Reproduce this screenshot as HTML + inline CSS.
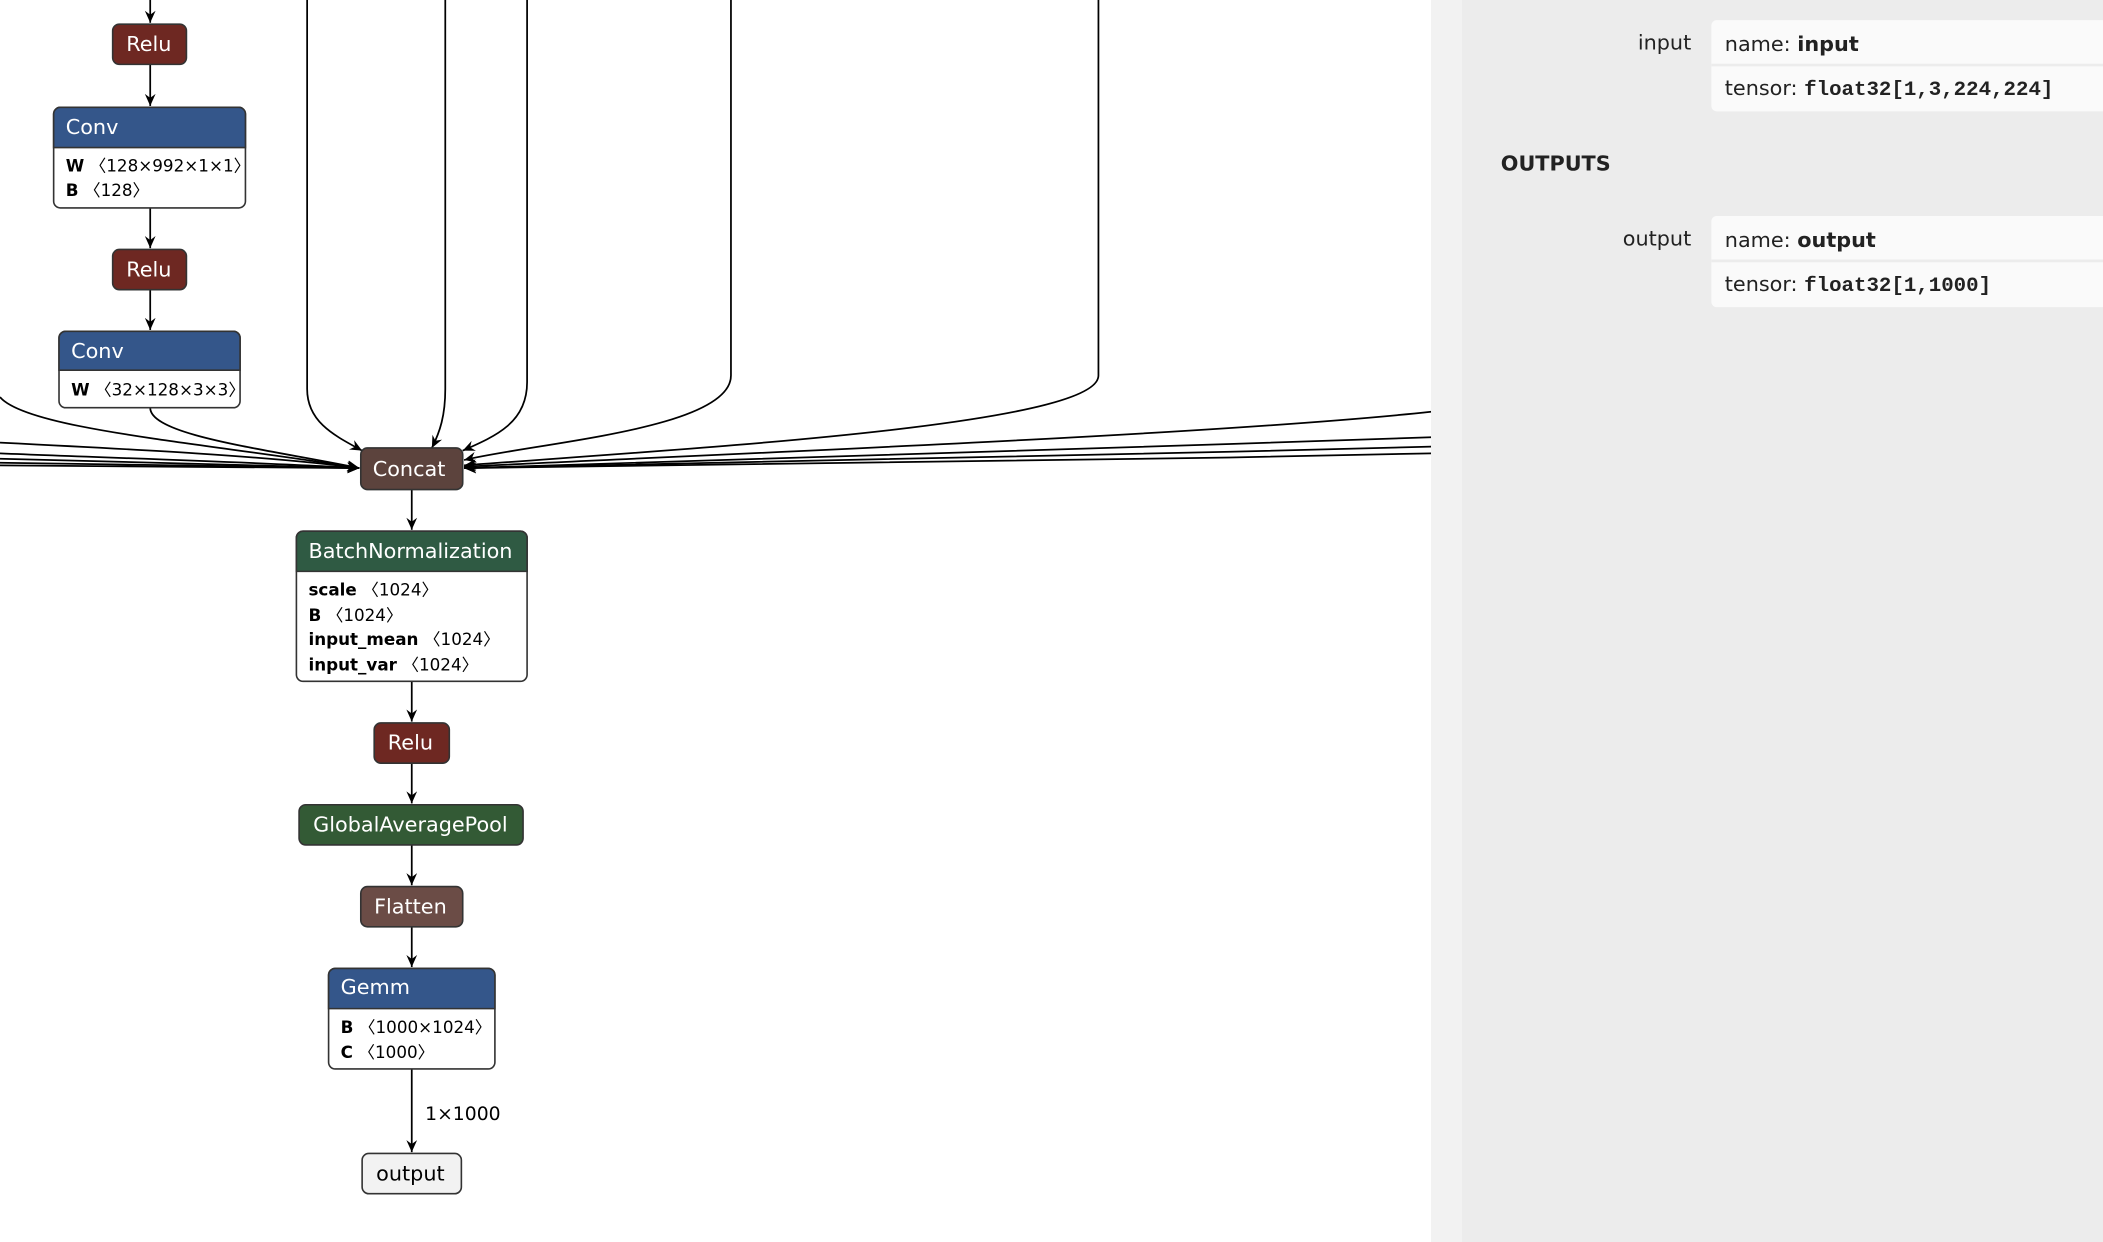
<!DOCTYPE html>
<html><head><meta charset="utf-8">
<style>
html,body{margin:0;padding:0;background:#fff;width:2103px;height:1242px;overflow:hidden}
svg{display:block}
text{font-family:"DejaVu Sans","Liberation Sans",sans-serif}
.nt{fill:#fff;font-size:15.5px}
.at{fill:#000;font-size:12.5px}
.ab{font-weight:bold}
.sb{font-size:15.5px;fill:#222}
.mono{font-family:"Liberation Mono","DejaVu Sans Mono",monospace;font-weight:bold;font-size:15.5px}
</style></head><body>
<svg width="2103" height="1242" viewBox="0 0 1568 926" preserveAspectRatio="none" xmlns="http://www.w3.org/2000/svg">
<defs>
<marker id="a" markerWidth="10" markerHeight="10" refX="9" refY="5" orient="auto" markerUnits="userSpaceOnUse">
<path d="M0,1 L9,5 L0,9 L3,5 Z" fill="#000"/></marker>
</defs>
<g fill="none" stroke="#000" stroke-width="1.3">
<!-- left chain -->
<line x1="112" y1="0" x2="112" y2="17" marker-end="url(#a)"/>
<line x1="112" y1="48" x2="112" y2="79" marker-end="url(#a)"/>
<line x1="112" y1="155" x2="112" y2="185" marker-end="url(#a)"/>
<line x1="112" y1="216" x2="112" y2="246" marker-end="url(#a)"/>
<!-- into concat from left -->
<path d="M112,304 C112,325 200,335 268,349" marker-end="url(#a)"/>
<path d="M0,296 C20,320 150,330 268,349" marker-end="url(#a)"/>
<path d="M0,330 C100,335 200,340 268,349" marker-end="url(#a)"/>
<path d="M0,338 C100,342 200,345 268,349" marker-end="url(#a)"/>
<path d="M0,342 C100,345 200,347 268,349" marker-end="url(#a)"/>
<path d="M0,345 C100,347 200,348 268,349" marker-end="url(#a)"/>
<path d="M0,347 L268,349" marker-end="url(#a)"/>
<!-- verticals -->
<path d="M229,0 L229,290 C229,315 250,325 270,336" marker-end="url(#a)"/>
<path d="M332,0 L332,290 C332,310 328,322 322,334" marker-end="url(#a)"/>
<path d="M393,0 L393,285 C393,315 370,325 345,336" marker-end="url(#a)"/>
<path d="M545,0 L545,280 C545,320 400,330 346,343" marker-end="url(#a)"/>
<path d="M819,0 L819,280 C819,318 500,335 346,347" marker-end="url(#a)"/>
<!-- right side -->
<path d="M1067,307 C900,325 500,340 346,348" marker-end="url(#a)"/>
<path d="M1067,326 C800,335 500,345 346,349" marker-end="url(#a)"/>
<path d="M1067,333 C800,340 500,347 346,349" marker-end="url(#a)"/>
<path d="M1067,338 C800,344 500,348 346,349" marker-end="url(#a)"/>
<!-- bottom chain -->
<line x1="307" y1="365" x2="307" y2="395" marker-end="url(#a)"/>
<line x1="307" y1="508" x2="307" y2="538" marker-end="url(#a)"/>
<line x1="307" y1="569" x2="307" y2="599" marker-end="url(#a)"/>
<line x1="307" y1="630" x2="307" y2="660" marker-end="url(#a)"/>
<line x1="307" y1="691" x2="307" y2="721" marker-end="url(#a)"/>
<line x1="307" y1="797" x2="307" y2="859" marker-end="url(#a)"/>
</g>
<text x="317" y="835" style="font-size:14px" fill="#000">1×1000</text>

<!-- nodes -->
<g stroke="#333" stroke-width="1.2">
<rect x="84" y="18" width="55" height="30" rx="5" fill="#6e2822"/>
<rect x="40" y="80" width="143" height="75" rx="5" fill="#fff"/>
<path d="M40,110 V85 a5,5 0 0 1 5,-5 H178 a5,5 0 0 1 5,5 V110 Z" fill="#34568a"/>
<rect x="84" y="186" width="55" height="30" rx="5" fill="#6e2822"/>
<rect x="44" y="247" width="135" height="57" rx="5" fill="#fff"/>
<path d="M44,276 V252 a5,5 0 0 1 5,-5 H174 a5,5 0 0 1 5,5 V276 Z" fill="#34568a"/>
<rect x="269" y="334" width="76" height="31" rx="5" fill="#5c433d"/>
<rect x="221" y="396" width="172" height="112" rx="5" fill="#fff"/>
<path d="M221,426 V401 a5,5 0 0 1 5,-5 H388 a5,5 0 0 1 5,5 V426 Z" fill="#2f5a43"/>
<rect x="279" y="539" width="56" height="30" rx="5" fill="#6e2822"/>
<rect x="223" y="600" width="167" height="30" rx="5" fill="#335a35"/>
<rect x="269" y="661" width="76" height="30" rx="5" fill="#6b4c46"/>
<rect x="245" y="722" width="124" height="75" rx="5" fill="#fff"/>
<path d="M245,752 V727 a5,5 0 0 1 5,-5 H364 a5,5 0 0 1 5,5 V752 Z" fill="#34568a"/>
<rect x="270" y="860" width="74" height="30" rx="5" fill="#f2f2f2"/>
</g>
<text class="nt" x="111" y="38" text-anchor="middle">Relu</text>
<text class="nt" x="49" y="100">Conv</text>
<text class="at" x="49" y="128"><tspan class="ab">W</tspan> 〈128×992×1×1〉</text>
<text class="at" x="49" y="146"><tspan class="ab">B</tspan> 〈128〉</text>
<text class="nt" x="111" y="206" text-anchor="middle">Relu</text>
<text class="nt" x="53" y="267">Conv</text>
<text class="at" x="53" y="295"><tspan class="ab">W</tspan> 〈32×128×3×3〉</text>
<text class="nt" x="305" y="355" text-anchor="middle">Concat</text>
<text class="nt" x="230" y="416">BatchNormalization</text>
<text class="at" x="230" y="444"><tspan class="ab">scale</tspan> 〈1024〉</text>
<text class="at" x="230" y="463"><tspan class="ab">B</tspan> 〈1024〉</text>
<text class="at" x="230" y="481"><tspan class="ab">input_mean</tspan> 〈1024〉</text>
<text class="at" x="230" y="500"><tspan class="ab">input_var</tspan> 〈1024〉</text>
<text class="nt" x="306" y="559" text-anchor="middle">Relu</text>
<text class="nt" x="306" y="620" text-anchor="middle">GlobalAveragePool</text>
<text class="nt" x="306" y="681" text-anchor="middle">Flatten</text>
<text class="nt" x="254" y="741">Gemm</text>
<text class="at" x="254" y="770"><tspan class="ab">B</tspan> 〈1000×1024〉</text>
<text class="at" x="254" y="789"><tspan class="ab">C</tspan> 〈1000〉</text>
<text x="306" y="880" text-anchor="middle" style="font-size:15.5px" fill="#000">output</text>

<!-- sidebar -->
<rect x="1067" y="0" width="23" height="926" fill="#f2f2f2"/>
<rect x="1090" y="0" width="478" height="926" fill="#ececec"/>
<rect x="1276" y="15" width="300" height="68" rx="4" fill="#fafafa"/>
<line x1="1276" y1="48.5" x2="1568" y2="48.5" stroke="#ececec" stroke-width="2"/>
<rect x="1276" y="161" width="300" height="68" rx="4" fill="#fafafa"/>
<line x1="1276" y1="194.5" x2="1568" y2="194.5" stroke="#ececec" stroke-width="2"/>
<text class="sb" x="1261" y="37" text-anchor="end">input</text>
<text class="sb" x="1286" y="38">name: <tspan font-weight="bold">input</tspan></text>
<text class="sb" x="1286" y="71">tensor: <tspan class="mono">float32[1,3,224,224]</tspan></text>
<text x="1119" y="127" style="font-size:15.5px;font-weight:bold" fill="#222">OUTPUTS</text>
<text class="sb" x="1261" y="183" text-anchor="end">output</text>
<text class="sb" x="1286" y="184">name: <tspan font-weight="bold">output</tspan></text>
<text class="sb" x="1286" y="217">tensor: <tspan class="mono">float32[1,1000]</tspan></text>
</svg>
</body></html>
